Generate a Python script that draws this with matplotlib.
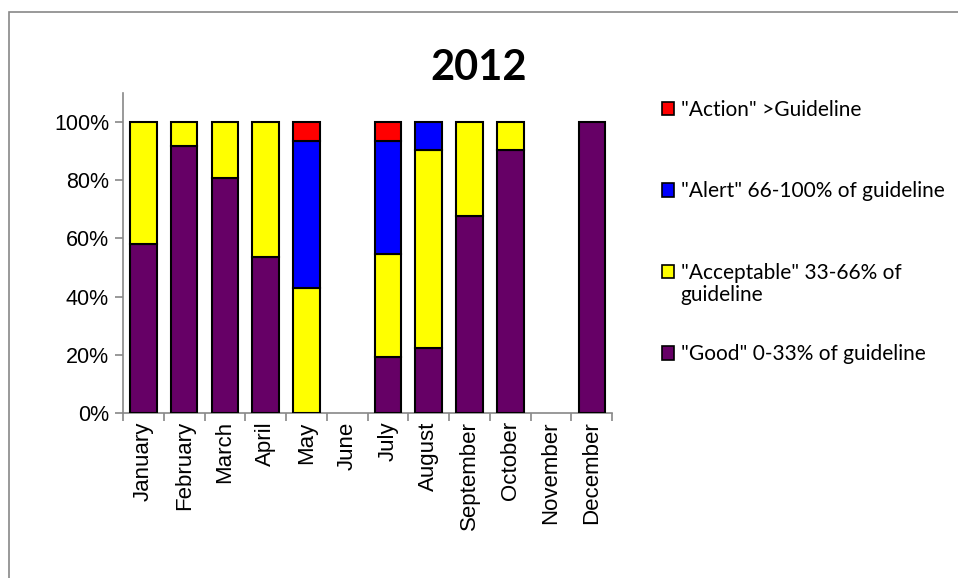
import matplotlib
matplotlib.use('Agg')
from matplotlib import pyplot as plt
from matplotlib.patches import Rectangle
from matplotlib.ticker import PercentFormatter
import numpy as np

# data (share of samples in each band per month)
months = ['January', 'February', 'March', 'April', 'May', 'June', 'July',
          'August', 'September', 'October', 'November', 'December']
good = [58.0, 91.8, 80.7, 53.6, 0.0, 0.0, 19.3, 22.5, 67.8, 90.3, 0.0, 100.0]
acceptable = [42.0, 8.2, 19.3, 46.4, 43.1, 0.0, 35.4, 67.8, 32.2, 9.7, 0.0, 0.0]
alert = [0.0, 0.0, 0.0, 0.0, 50.3, 0.0, 38.8, 9.7, 0.0, 0.0, 0.0, 0.0]
action = [0.0, 0.0, 0.0, 0.0, 6.6, 0.0, 6.5, 0.0, 0.0, 0.0, 0.0, 0.0]

labels = ['"Good" 0-33% of guideline',
          '"Acceptable" 33-66% of',
          '"Alert" 66-100% of guideline',
          '"Action" >Guideline']
colors = ['#660066', '#ffff00', '#0000ff', '#ff0000']

fig = plt.figure(figsize=(9.58, 5.78), dpi=100)
ax = fig.add_axes([0.1284, 0.2855, 0.5106, 0.5535])

x = np.arange(len(months))
bottom = np.zeros(len(months))
handles = []
for vals, lab, col in zip([good, acceptable, alert, action], labels, colors):
    v = np.array(vals) / 100
    h = np.where(v > 0, v, np.nan)   # skip empty segments
    b = ax.bar(x, h, 0.65, bottom=bottom, color=col, edgecolor='black',
               linewidth=1.5, label=lab, zorder=3)
    handles.append(b)
    bottom += v

ax.set_xlim(-0.5, len(months) - 0.5)
ax.set_ylim(0, 1.1)
ax.set_yticks(np.arange(0, 1.01, 0.2))
ax.yaxis.set_major_formatter(PercentFormatter(1.0, decimals=0))
ax.set_xticks(x)
ax.set_xticklabels(months, rotation=90, fontsize=16, family='Liberation Sans')
for t in ax.get_yticklabels():
    t.set_fontsize(15.5)
    t.set_family('Liberation Sans')
ax.set_xticks(np.arange(-0.5, len(months)), minor=True)
ax.tick_params(axis='x', which='major', length=0, pad=6)
ax.tick_params(axis='x', which='minor', length=6, color='#888888', width=1.2, direction='out')
ax.tick_params(axis='y', length=6, color='#888888', width=1.2, direction='out', pad=4)
for s in ['top', 'right']:
    ax.spines[s].set_visible(False)
for s in ['left', 'bottom']:
    ax.spines[s].set_color('#888888')
    ax.spines[s].set_linewidth(1.2)

fig.text(0.5, 0.882, '2012', ha='center', va='center', fontsize=30,
         fontweight='bold', family='Lato')

leg = fig.legend(handles[::-1], labels[::-1], loc='upper left',
                 bbox_to_anchor=(0.691, 0.827), frameon=False,
                 prop={'family': 'Lato', 'size': 15}, handlelength=0.6,
                 handleheight=0.6, handletextpad=0.3, labelspacing=2.95,
                 borderpad=0, borderaxespad=0)
for h in leg.legend_handles:
    h.set_linewidth(1.2)

# second line of the "Acceptable" entry, placed under its first line
fig.canvas.draw()
t_acc = leg.get_texts()[2]
bb = t_acc.get_window_extent().transformed(fig.transFigure.inverted())
fig.text(bb.x0, bb.y0 - 0.004, 'guideline', ha='left', va='top',
         family='Lato', fontsize=15)

# chart area border (only top and left visible in the crop)
fig.patches.append(Rectangle((9 / 958, -0.1), 1.2, 1 - 12 / 578 + 0.1,
                             transform=fig.transFigure, fill=False,
                             edgecolor='#888888', linewidth=1.2))

plt.savefig('out.png', dpi=100)
